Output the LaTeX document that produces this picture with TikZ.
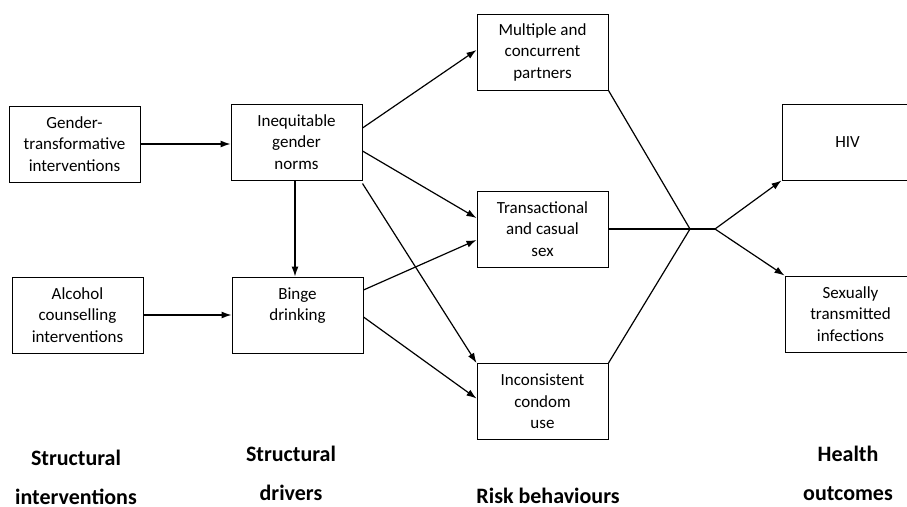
\documentclass[tikz,border=0pt]{standalone}
\usepackage{fontspec}
\setmainfont{Carlito}
\usepackage{tikz}
\usetikzlibrary{arrows.meta}

\begin{document}
\begin{tikzpicture}[x=1pt, y=-1pt,
		box/.style={draw, line width=1pt, minimum width=131pt, minimum height=76pt, inner sep=2pt, align=center, font=\fontsize{17}{21.5}\selectfont},
		lbl/.style={align=center, font=\bfseries\fontsize{22}{39}\selectfont},
		arr/.style={line width=1.2pt, -{Latex[length=10pt, width=7pt]}},
		lnk/.style={line width=1.2pt}]
		\useasboundingbox (0,0) rectangle (907,506);
		% boxes: name / centre / text
		\foreach \nm/\pos/\txt in {gti/{(74.5,144)}/{Gender-\\transformative\\interventions},
				alc/{(77.5,315)}/{Alcohol\\counselling\\interventions},
				ineq/{(296.5,142)}/{Inequitable\\gender\\norms},
				binge/{(297.5,315)}/{Binge\\drinking\\\mbox{}},
				mult/{(542.5,52)}/{Multiple and\\concurrent\\partners},
				trans/{(542.5,229)}/{Transactional\\and casual\\sex},
				incons/{(542.5,401.5)}/{Inconsistent\\condom\\use},
				hiv/{(847.5,142)}/{HIV},
				sti/{(850.5,314)}/{Sexually\\transmitted\\infections}} {
			\node[box] (\nm) at \pos {\txt};
		}
		% column labels
		\node[lbl] (colint) at (76,477) {Structural\\interventions};
		\node[lbl] (coldrv) at (291,473) {Structural\\drivers};
		\node[lbl] (colrisk) at (548,496) {Risk behaviours};
		\node[lbl] (colout) at (848,473) {Health\\outcomes};
		% interventions to drivers
		\draw[arr] (gti.east) -- (gti.east -| ineq.west);
		\draw[arr] (alc.east) -- (alc.east -| binge.west);
		\draw[arr] (ineq.south -| 295,0) -- (binge.north -| 295,0);
		% drivers to behaviours
		\draw[arr] ([yshift=14pt]ineq.east) -- ([yshift=2pt]mult.west);
		\draw[arr] ([yshift=-9pt]ineq.east) -- ([yshift=11pt]trans.west);
		\draw[arr] ([yshift=-3pt]ineq.south east) -- (incons.north west);
		\draw[arr] ([yshift=25pt]binge.east) -- ([yshift=-11pt]trans.west);
		\draw[arr] ([yshift=-2pt]binge.east) -- ([yshift=3pt]incons.west);
		% behaviours join, then split to outcomes
		\coordinate (jn) at (690,229);
		\coordinate (sp) at (715,229);
		\draw[lnk] (mult.south east) -- (jn);
		\draw[lnk] (trans.east) -- (jn);
		\draw[lnk] (incons.north east) -- (jn);
		\draw[lnk] (jn) -- (sp);
		\draw[arr] (sp) -- (hiv.south west);
		\draw[arr] (sp) -- (sti.north west);
	\end{tikzpicture}
\end{document}
